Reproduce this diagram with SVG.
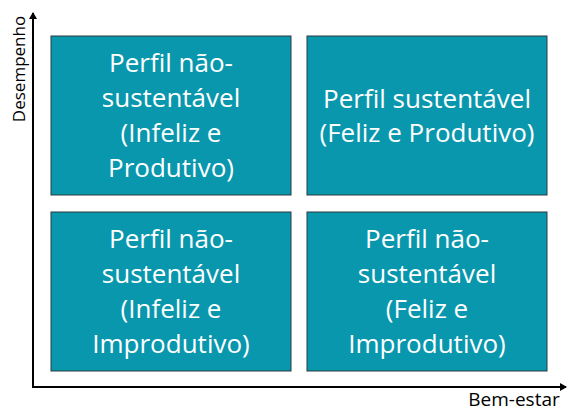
<svg xmlns="http://www.w3.org/2000/svg" width="568" height="412" viewBox="0 0 568 412">
<style>
.box{fill:#0997ae;stroke:#2b3a3e;stroke-width:1}
.t{font-family:"Open Sans",sans-serif;font-size:26px;fill:#ffffff;text-anchor:middle}
.ax{stroke:#000;stroke-width:2;fill:none}
.lbl{font-family:"Open Sans",sans-serif;fill:#000}
</style>
<defs>
<marker id="ah" markerWidth="8" markerHeight="8" refX="6" refY="4" orient="auto" markerUnits="userSpaceOnUse">
<path d="M0,0 L7,4 L0,8 Z" fill="#000"/>
</marker>
</defs>
<g id="connectors">
<line class="ax" x1="33" y1="388" x2="33" y2="13" marker-end="url(#ah)"/>
<line class="ax" x1="32" y1="387" x2="566" y2="387" marker-end="url(#ah)"/>
</g>
<g id="tl">
<rect class="box" x="51" y="36" width="240" height="159"/>
<text class="t" x="171" y="72">Perfil não-</text>
<text class="t" x="171" y="107">sustentável</text>
<text class="t" x="171" y="142">(Infeliz e</text>
<text class="t" x="171" y="177">Produtivo)</text>
</g>
<g id="tr">
<rect class="box" x="307" y="36" width="240" height="159"/>
<text class="t" x="427" y="108">Perfil sustentável</text>
<text class="t" x="427" y="142">(Feliz e Produtivo)</text>
</g>
<g id="bl">
<rect class="box" x="51" y="212" width="240" height="159"/>
<text class="t" x="171" y="248">Perfil não-</text>
<text class="t" x="171" y="283">sustentável</text>
<text class="t" x="171" y="318">(Infeliz e</text>
<text class="t" x="171" y="353">Improdutivo)</text>
</g>
<g id="br">
<rect class="box" x="307" y="212" width="240" height="159"/>
<text class="t" x="427" y="248">Perfil não-</text>
<text class="t" x="427" y="283">sustentável</text>
<text class="t" x="427" y="318">(Feliz e</text>
<text class="t" x="427" y="353">Improdutivo)</text>
</g>
<g id="ylabel">
<text class="lbl" font-size="17" transform="translate(25,69) rotate(-90)" text-anchor="middle">Desempenho</text>
</g>
<g id="xlabel">
<text class="lbl" font-size="19" x="514" y="406" text-anchor="middle">Bem-estar</text>
</g>
</svg>
